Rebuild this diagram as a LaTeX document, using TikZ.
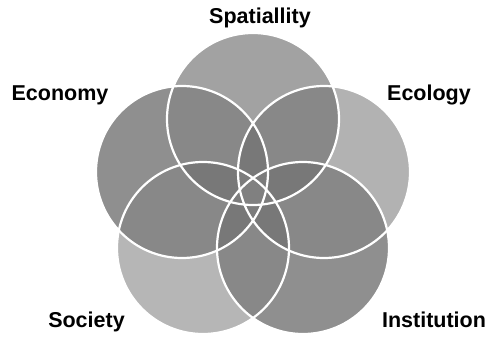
\documentclass[tikz,border=0pt]{standalone}
\usepackage{fontspec}
\setmainfont{Liberation Sans}
\begin{document}
\begin{tikzpicture}[x=1pt,y=-1pt,
  lbl/.style={font=\fontsize{21.5}{24}\selectfont\bfseries, text=black, anchor=base, inner sep=0pt},
  ring/.style={draw=white, line width=2.2pt}]
\useasboundingbox[fill=white] (0,0) rectangle (489,337);
\def\R{86pt}
\coordinate (sp) at (253,119);
\coordinate (ec) at (182,172);
\coordinate (el) at (324,172);
\coordinate (so) at (203,248);
\coordinate (in) at (303,248);
\definecolor{csp}{gray}{0.635}
\definecolor{cec}{gray}{0.56}
\definecolor{cel}{gray}{0.70}
\definecolor{cso}{gray}{0.715}
\definecolor{cin}{gray}{0.56}
\definecolor{dtwo}{gray}{0.535}
\definecolor{dthree}{gray}{0.47}
\definecolor{dfour}{gray}{0.485}
\definecolor{dfive}{gray}{0.50}
% single circles
\fill[csp] (sp) circle[radius=\R];
\fill[cec] (ec) circle[radius=\R];
\fill[cel] (el) circle[radius=\R];
\fill[cso] (so) circle[radius=\R];
\fill[cin] (in) circle[radius=\R];
% depth 2
\foreach \a/\b in {sp/ec,sp/el,sp/so,sp/in,ec/el,ec/so,ec/in,el/so,el/in,so/in}{
  \begin{scope}\clip (\a) circle[radius=\R]; \fill[dtwo] (\b) circle[radius=\R];\end{scope}
}
% depth 3
\foreach \a/\b/\c in {sp/ec/el,sp/ec/so,sp/ec/in,sp/el/so,sp/el/in,sp/so/in,ec/el/so,ec/el/in,ec/so/in,el/so/in}{
  \begin{scope}\clip (\a) circle[radius=\R]; \clip (\b) circle[radius=\R]; \fill[dthree] (\c) circle[radius=\R];\end{scope}
}
% depth 4
\foreach \a/\b/\c/\d in {sp/ec/el/so,sp/ec/el/in,sp/ec/so/in,sp/el/so/in,ec/el/so/in}{
  \begin{scope}\clip (\a) circle[radius=\R]; \clip (\b) circle[radius=\R]; \clip (\c) circle[radius=\R]; \fill[dfour] (\d) circle[radius=\R];\end{scope}
}
% depth 5
\begin{scope}
\clip (sp) circle[radius=\R]; \clip (ec) circle[radius=\R]; \clip (el) circle[radius=\R]; \clip (so) circle[radius=\R];
\fill[dfive] (in) circle[radius=\R];
\end{scope}
% outlines
\foreach \p in {sp,ec,el,so,in}{ \draw[ring] (\p) circle[radius=\R]; }
% labels
\node[lbl] (tsp) at (260,24) {Spatiallity};
\node[lbl] (tec) at (60,100) {Economy};
\node[lbl] (tel) at (429,100) {Ecology};
\node[lbl] (tso) at (86.5,327) {Society};
\node[lbl] (tin) at (434,327) {Institution};
\end{tikzpicture}
\end{document}
